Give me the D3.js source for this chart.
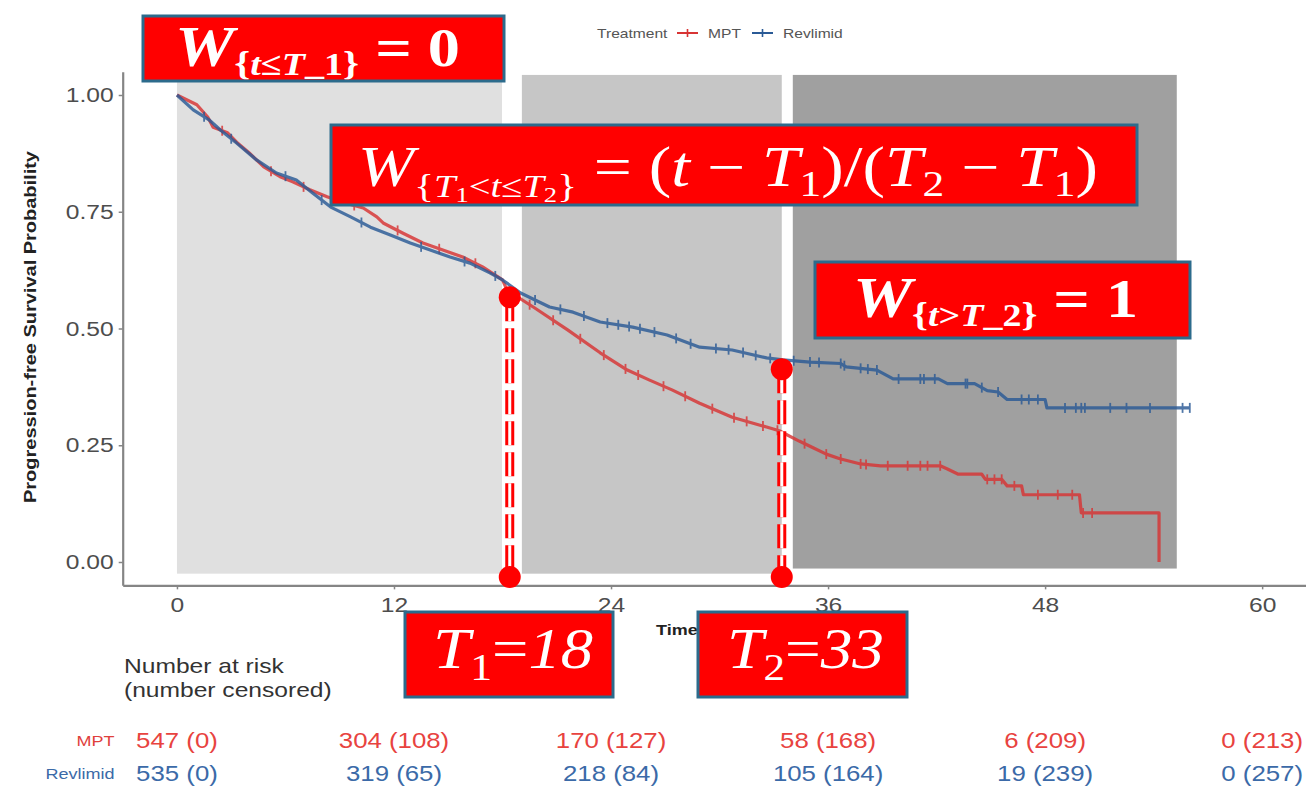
<!DOCTYPE html>
<html><head><meta charset="utf-8">
<script src="https://cdn.jsdelivr.net/npm/d3@7"></script>
<style>body{margin:0;background:#fff;} svg{display:block;} text{white-space:pre;}</style>
</head><body>
<svg id="c" width="1306" height="793"></svg>
<script>
// ---------------- data ----------------
const timeTicks = [0, 12, 24, 36, 48, 60];
const probTicks = [0, 0.25, 0.5, 0.75, 1];
const groups = ["MPT", "Revlimid"];

// Kaplan-Meier curves: [time (months), survival]
const mptCurve = [[0,1.000],[1.1,0.979],[1.7,0.953],[2.0,0.931],[2.8,0.919],[3.3,0.899],[4.0,0.876],[4.8,0.846],[5.7,0.825],[6.4,0.814],[7.35,0.797],[8.3,0.782],[9.2,0.770],[10.3,0.758],[11.05,0.739],[11.4,0.726],[12.5,0.704],[13.6,0.683],[14.7,0.668],[15.8,0.653],[16.9,0.632],[18.0,0.604],[18.25,0.582],[19.7,0.546],[21.6,0.497],[23.4,0.448],[24.9,0.411],[26.1,0.390],[27.4,0.368],[28.9,0.340],[30.7,0.310],[32.6,0.289],[33.3,0.281],[34.4,0.259],[35.2,0.244],[35.9,0.231],[36.65,0.221],[37.8,0.210],[38.9,0.206],[42.2,0.206],[42.6,0.199],[43.2,0.188],[44.5,0.188],[44.7,0.177],[45.6,0.177],[45.9,0.163],[46.7,0.163],[46.8,0.144],[49.9,0.144],[50.0,0.105],[54.3,0.105],[54.3,0.0]];
const revCurve = [[0,1.000],[0.9,0.968],[1.8,0.946],[2.4,0.925],[3.3,0.897],[4.4,0.861],[5.5,0.833],[6.6,0.818],[7.5,0.790],[8.5,0.760],[9.6,0.739],[10.7,0.717],[11.8,0.700],[12.9,0.683],[14.0,0.668],[15.1,0.653],[16.2,0.640],[17.3,0.619],[18.0,0.604],[19.0,0.576],[20.6,0.546],[21.9,0.535],[23.4,0.514],[25.2,0.503],[27.1,0.486],[28.9,0.460],[30.7,0.454],[32.6,0.437],[33.5,0.433],[35.0,0.428],[36.7,0.425],[37.0,0.418],[38.7,0.411],[39.6,0.392],[42.1,0.392],[42.6,0.382],[44.1,0.382],[44.8,0.367],[45.4,0.364],[45.9,0.348],[48.0,0.348],[48.1,0.330],[56.0,0.330]];

// censoring times (tick marks)
const mptCensor = [2.5,5.2,7.0,9.8,12.2,14.5,16.5,19.5,20.8,22.3,23.6,24.8,25.5,26.9,28.1,29.6,30.8,31.5,32.4,33.2,34.7,35.9,36.7,37.8,38.1,39.3,40.4,41.1,41.5,42.2,44.8,45.2,45.6,46.3,47.6,48.7,49.5,50.1,50.6];
const revCensor = [1.5,3.0,6.0,8.0,10.2,13.5,15.9,17.6,19.8,21.2,22.5,23.8,24.4,25.0,25.6,26.4,27.6,28.4,29.8,30.5,31.3,32.0,32.8,34.1,35.0,35.5,36.7,36.9,37.8,38.2,38.7,39.9,41.1,41.3,41.9,43.6,43.7,44.5,45.4,46.7,47.1,47.6,49.1,49.7,50.0,50.2,51.6,52.5,53.8,55.6,56.0];

// number at risk (number censored)
const riskMPT = ["547 (0)", "304 (108)", "170 (127)", "58 (168)", "6 (209)", "0 (213)"];
const riskRev = ["535 (0)", "319 (65)", "218 (84)", "105 (164)", "19 (239)", "0 (257)"];

// weight regions (time start, time end)
const regionStarts = [0, 19.07, 34.05];
const regionEnds = [17.97, 33.44, 55.28];
const regionTop = 1.043;
const regionBottoms = [-0.025, -0.025, -0.014];

// cut points T1, T2 markers
const cutTimes = [18.4, 33.44];
const cutProbs = [0.567, 0.413];
const cutBase = -0.032;

// ---------------- drawing ----------------
const svg = d3.select("#c");
const SX = 1.2; // horizontal stretch of the source image text
const x = d3.scaleLinear().domain([-3, 63]).range([122.7, 1316.4]);
const y = d3.scaleLinear().domain([-0.05, 1.05]).range([585.35, 71.65]);
const sans = "'Liberation Sans', Arial, sans-serif";
const serif = "'Liberation Serif', 'DejaVu Serif', serif";
const RED = "#d83434", BLUE = "#2a5a96";

// shaded weight regions
const regionFill = ["#e0e0e0", "#c6c6c6", "#a0a0a0"];
svg.append("g").selectAll("rect").data(regionStarts).join("rect")
  .attr("x", (d) => x(d))
  .attr("width", (d, i) => x(regionEnds[i]) - x(d))
  .attr("y", y(regionTop))
  .attr("height", (d, i) => y(regionBottoms[i]) - y(regionTop))
  .attr("fill", (d, i) => regionFill[i]);

// axes
const gy = svg.append("g").attr("transform", `translate(${x(-3)},0)`)
  .call(d3.axisLeft(y).tickValues(probTicks).tickFormat(d3.format(".2f")).tickSize(4).tickSizeOuter(0));
const gx = svg.append("g").attr("transform", `translate(0,${y(-0.05)})`)
  .call(d3.axisBottom(x).tickValues(timeTicks).tickFormat(d3.format("d")).tickSize(4).tickSizeOuter(0));
[gy, gx].forEach(g => {
  g.select(".domain").attr("stroke", "#858585").attr("stroke-width", 2.2);
  g.selectAll(".tick line").attr("stroke", "#858585").attr("stroke-width", 1.5);
  g.selectAll(".tick text").attr("font-family", sans).attr("font-size", 20.5).attr("fill", "#4d4d4d");
});
gy.selectAll(".tick text").attr("x", -9 / SX).attr("transform", `scale(${SX},1)`);
gx.selectAll(".tick text").attr("y", 12).attr("transform", `scale(${SX},1)`);

// axis titles
svg.append("text").attr("transform", `translate(36,327) rotate(-90)`)
  .attr("text-anchor", "middle").attr("font-family", sans).attr("font-weight", "bold")
  .attr("font-size", 16.5).attr("fill", "#222").attr("textLength", 352).attr("lengthAdjust", "spacingAndGlyphs")
  .text("Progression-free Survival Probability");

function stext(px, py, str, size, fill, anchor, weight) {
  return svg.append("text").attr("transform", `translate(${px},${py}) scale(${SX},1)`)
    .attr("text-anchor", anchor || "start").attr("font-family", sans)
    .attr("font-size", size).attr("fill", fill).attr("font-weight", weight || "normal").text(str);
}
stext(656, 635, "Time", 15, "#222", "start", "bold");

// curves
const line = d3.line().x(d => x(d[0])).y(d => y(d[1]));
function survAt(curve, t) {
  for (let i = 0; i < curve.length - 1; i++) {
    const [t0, p0] = curve[i], [t1, p1] = curve[i + 1];
    if (t >= t0 && t <= t1) return t1 === t0 ? p1 : p0 + (p1 - p0) * (t - t0) / (t1 - t0);
  }
  return curve[curve.length - 1][1];
}
const series = [[mptCurve, mptCensor, RED], [revCurve, revCensor, BLUE]];
series.forEach(([curve, cens, col]) => {
  const g = svg.append("g").attr("opacity", 0.82);
  g.append("path").datum(curve).attr("d", line).attr("fill", "none")
    .attr("stroke", col).attr("stroke-width", 3.2).attr("stroke-linejoin", "round");
  g.selectAll("line").data(cens).join("line")
    .attr("x1", d => x(d)).attr("x2", d => x(d))
    .attr("y1", d => y(survAt(curve, d)) - 5).attr("y2", d => y(survAt(curve, d)) + 5)
    .attr("stroke", col).attr("stroke-width", 1.8);
});

// cut markers
cutTimes.forEach((t, i) => {
  const g = svg.append("g");
  g.append("line").attr("x1", x(t)).attr("x2", x(t)).attr("y1", y(cutProbs[i])).attr("y2", y(cutBase))
    .attr("stroke", "#ff0000").attr("stroke-width", 9).attr("stroke-dasharray", "24,7");
  g.append("line").attr("x1", x(t)).attr("x2", x(t)).attr("y1", y(cutProbs[i])).attr("y2", y(cutBase))
    .attr("stroke", "#ffffff").attr("stroke-width", 3).attr("stroke-dasharray", "24,7");
  [cutProbs[i], cutBase].forEach(p => g.append("circle").attr("cx", x(t)).attr("cy", y(p)).attr("r", 11).attr("fill", "#ff0000"));
});

// annotation boxes
function box(bx, by, bw, bh) {
  svg.append("rect").attr("x", bx).attr("y", by).attr("width", bw).attr("height", bh)
    .attr("fill", "#ff0000").attr("stroke", "#2c6b8c").attr("stroke-width", 3);
}
function mathText(tx, baseline, pieces, length, weight) {
  const t = svg.append("text").attr("x", tx).attr("y", baseline).attr("fill", "#fff")
    .attr("font-family", serif).attr("font-weight", weight)
    .attr("textLength", length).attr("lengthAdjust", "spacingAndGlyphs");
  let prev = 0;
  pieces.forEach(p => {
    t.append("tspan").attr("font-size", p[1]).attr("font-style", p[2] ? "italic" : "normal")
      .attr("dy", p[3] - prev).text(p[0]);
    prev = p[3];
  });
}
const NB = "\u00a0";
box(143, 16, 361, 65);
mathText(175, 66, [["W",56,true,0],["{",34,false,9],["t",32,true,9],["≤",32,false,9],["T",32,true,9],["_",32,false,9],["1",32,false,9],["}",34,false,9],[NB+"="+NB+"0",54,false,0]], 285, "bold");

box(331, 125, 806, 80);
mathText(358, 186, [["W",56,true,0],["{",34,false,11],["T",32,true,11],["1",22,false,16],["<",32,false,11],["t",32,true,11],["≤",32,false,11],["T",32,true,11],["2",22,false,16],["}",34,false,11],
  [NB+"="+NB+"(",56,false,0],["t",56,true,0],[NB+"−"+NB,56,false,0],["T",56,true,0],["1",36,false,10],[")/(",56,false,0],["T",56,true,0],["2",36,false,10],[NB+"−"+NB,56,false,0],["T",56,true,0],["1",36,false,10],[")",56,false,0]], 740, "normal");

box(815, 262, 375, 76);
mathText(853, 317, [["W",56,true,0],["{",34,false,9],["t",32,true,9],[">",32,false,9],["T",32,true,9],["_",32,false,9],["2",32,false,9],["}",34,false,9],[NB+"="+NB+"1",54,false,0]], 285, "bold");

box(405, 612, 208, 85);
mathText(433, 668, [["T",58,true,0],["1",38,false,12],["=",56,false,0],["18",56,true,0]], 160, "normal");
box(698, 612, 209, 85);
mathText(727, 668, [["T",58,true,0],["2",38,false,12],["=",56,false,0],["33",56,true,0]], 157, "normal");

// legend
stext(597, 38, "Treatment", 13, "#555");
[[677, RED, "MPT", 708], [752, BLUE, "Revlimid", 783]].forEach(([lx, col, lab, tx]) => {
  svg.append("line").attr("x1", lx).attr("x2", lx + 21).attr("y1", 33).attr("y2", 33).attr("stroke", col).attr("stroke-width", 2);
  svg.append("line").attr("x1", lx + 10.5).attr("x2", lx + 10.5).attr("y1", 29).attr("y2", 37).attr("stroke", col).attr("stroke-width", 1.6);
  stext(tx, 38, lab, 13, "#555");
});

// risk table
stext(124, 673, "Number at risk", 20.5, "#333");
stext(124, 697, "(number censored)", 20.5, "#333");
stext(114.5, 746, groups[0], 15, "#e0403c", "end");
stext(114.5, 779, groups[1], 15, "#3b6aa8", "end");
timeTicks.forEach((t, i) => {
  stext(x(t), 748, riskMPT[i], 21.5, "#e8433f", "middle");
  stext(x(t), 781, riskRev[i], 21.5, "#3b6aa8", "middle");
});
</script>
</body></html>
